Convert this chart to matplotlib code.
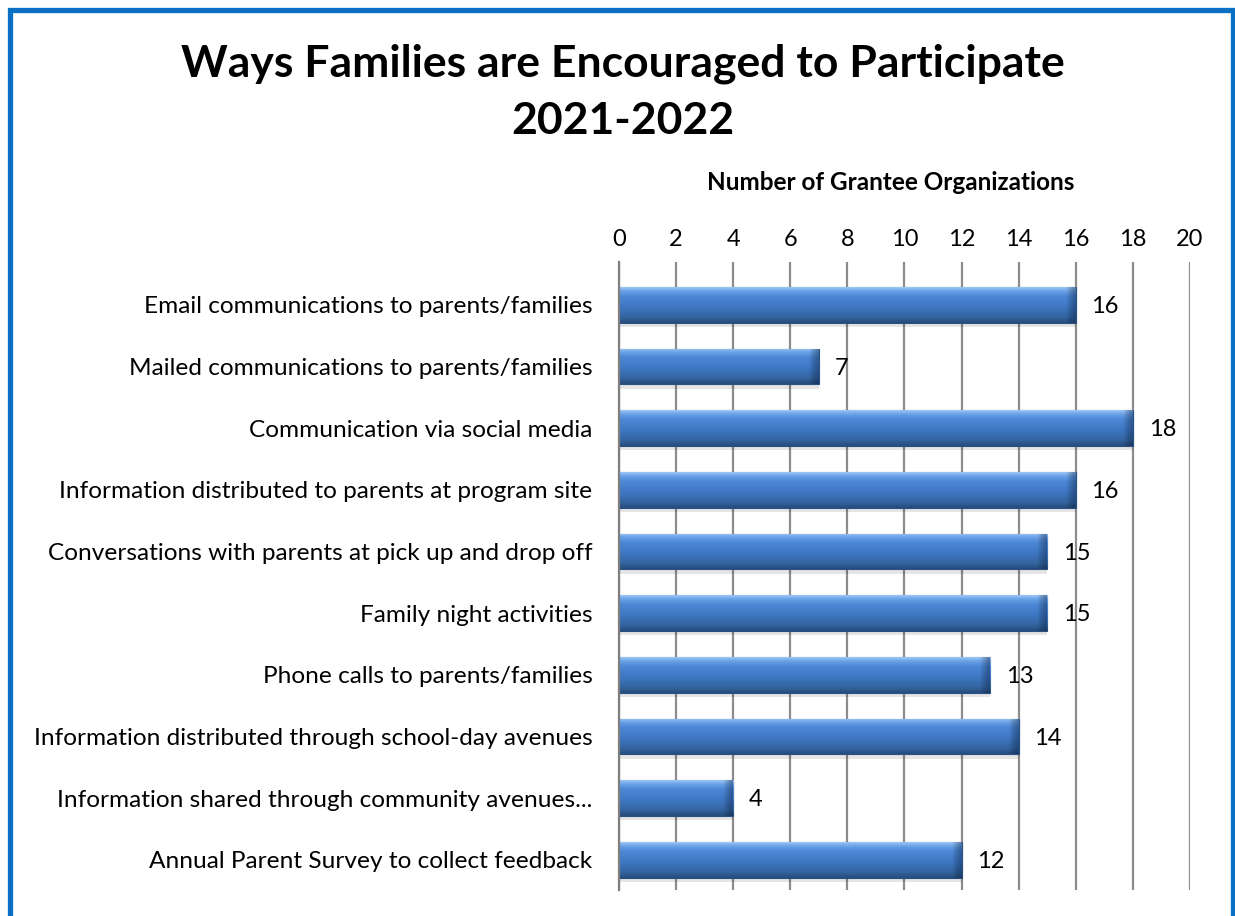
import matplotlib.pyplot as plt
import numpy as np
from matplotlib.colors import LinearSegmentedColormap
from matplotlib.patches import Rectangle

categories = [
    "Email communications to parents/families",
    "Mailed communications to parents/families",
    "Communication via social media",
    "Information distributed to parents at program site",
    "Conversations with parents at pick up and drop off",
    "Family night activities",
    "Phone calls to parents/families",
    "Information distributed through school-day avenues",
    "Information shared through community avenues...",
    "Annual Parent Survey to collect feedback",
]
counts = [16, 7, 18, 16, 15, 15, 13, 14, 4, 12]
x_ticks = list(range(0, 21, 2))

title = "Ways Families are Encouraged to Participate\n2021-2022"
axis_title = "Number of Grantee Organizations"

plt.rcParams['font.family'] = ['Lato', 'DejaVu Sans']

fig = plt.figure(figsize=(12.35, 9.16), dpi=100)

# blue frame around the whole chart
fig.patches.append(Rectangle((0.0077, -0.02), 0.9907, 1.0092, transform=fig.transFigure,
                             fill=False, edgecolor='#0A70C4', linewidth=3.8))

fig.text(0.504, 0.8995, title, ha='center', va='center', fontsize=32,
         fontweight='bold', linespacing=1.5)
fig.text(0.7215, 0.8013, axis_title, ha='center', va='center', fontsize=17.5,
         fontweight='bold')

ax = fig.add_axes([0.5012, 0.0284, 0.4623, 0.686])
y = np.arange(len(categories))

# soft shadow under the bars
ax.barh(y + 0.07, counts, height=0.58, color='black', alpha=0.10, zorder=2)
bars = ax.barh(y, counts, height=0.58, color='#3F77C4', edgecolor='#2A5183',
               linewidth=0.8, zorder=3)

# vertical gradient to mimic the bevel look
bevel = LinearSegmentedColormap.from_list('bevel', [
    (0.0, '#9CC6F6'), (0.1, '#6CA3E8'), (0.25, '#4C88D6'),
    (0.55, '#3F77C4'), (0.85, '#33649F'), (1.0, '#274C7C')])
shade = LinearSegmentedColormap.from_list('shade', [(0, 0, 0, 0), (0.05, 0.15, 0.3, 0.45)])
grad = np.linspace(0, 1, 64).reshape(-1, 1)
side = np.linspace(0, 1, 16).reshape(1, -1)
for rect in bars:
    x0, y0 = rect.get_x(), rect.get_y()
    w, h = rect.get_width(), rect.get_height()
    im = ax.imshow(grad, extent=(x0, x0 + w, y0 + h, y0), aspect='auto',
                   cmap=bevel, zorder=4, interpolation='bicubic')
    im.set_clip_path(rect)
    # darker rim at the right end of each bar
    end = ax.imshow(side, extent=(x0 + w - 0.35, x0 + w, y0 + h, y0), aspect='auto',
                    cmap=shade, zorder=4.5, interpolation='bicubic')
    end.set_clip_path(rect)

for yi, v in zip(y, counts):
    ax.text(v + 0.55, yi + 0.03, str(v), ha='left', va='center', fontsize=17, zorder=6)

ax.set_xlim(0, 20)
ax.set_ylim(9.49, -0.70)
ax.set_xticks(x_ticks)
ax.xaxis.tick_top()
ax.tick_params(axis='x', length=0, pad=8, labelsize=17)
ax.set_yticks(y)
ax.set_yticklabels(categories, fontsize=17.6)
ax.tick_params(axis='y', length=0, pad=19)
ax.grid(axis='x', color='#8C8C8C', linewidth=1.6, zorder=0)
ax.set_axisbelow(True)
for s in ['top', 'right', 'bottom']:
    ax.spines[s].set_visible(False)
ax.spines['left'].set_color('#7F7F7F')
ax.spines['left'].set_linewidth(1.6)
ax.spines['left'].set_zorder(5)

fig.savefig('out.png', dpi=100)
